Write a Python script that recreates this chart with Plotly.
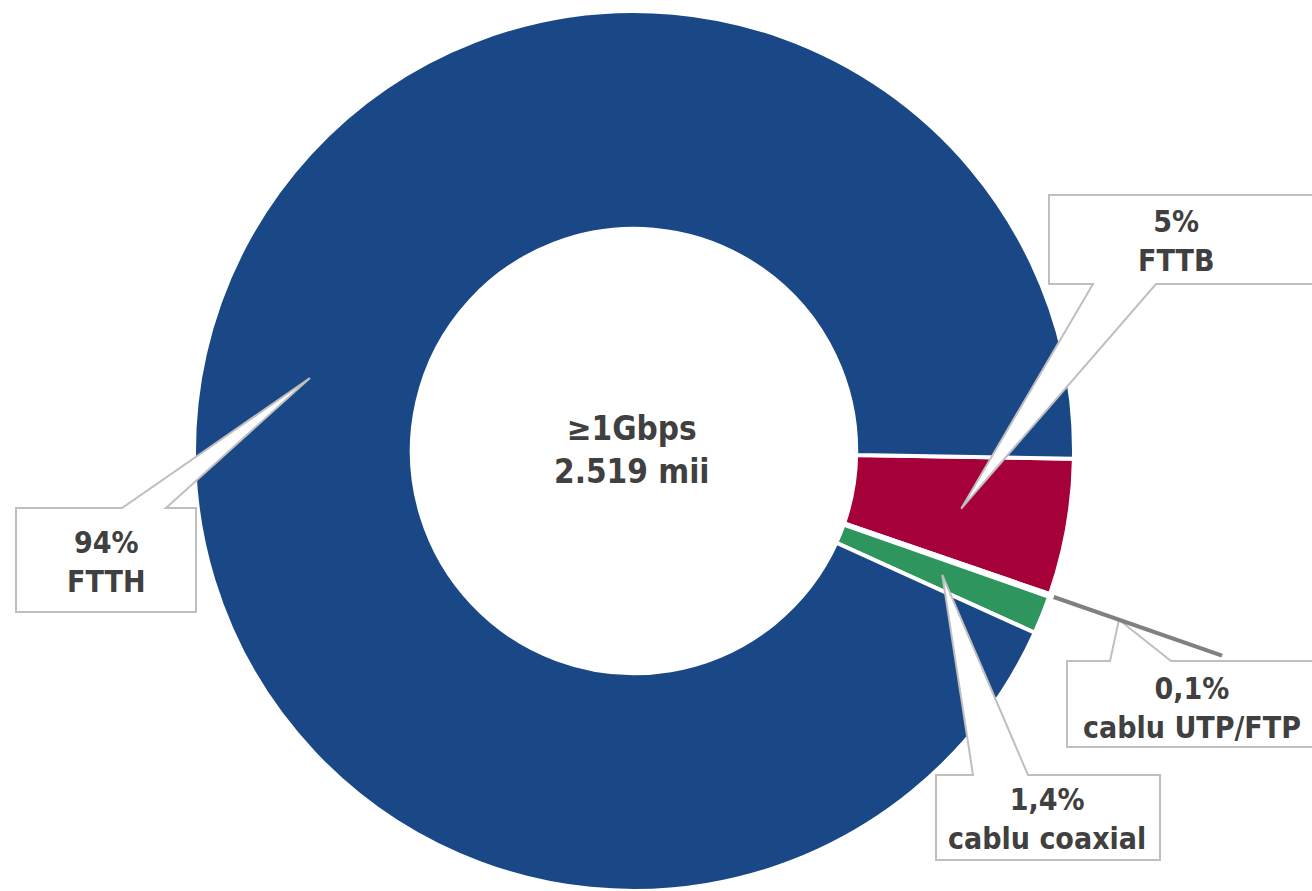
import math
import plotly.graph_objects as go

# ---- data ----
labels = ["FTTB", "cablu UTP/FTP", "cablu coaxial", "FTTH"]
values = [5.0, 0.1, 1.4, 93.5]
pct_text = ["5%", "0,1%", "1,4%", "94%"]
colors = ["#A6003B", "#808080", "#2F955F", "#1A4886"]
center_lines = ["≥1Gbps", "2.519 mii"]

# ---- layout constants (pixels) ----
W, H = 1312, 891
CX, CY, R = 634, 451, 440
HOLE = 0.505
ROT = 91
FONT = "DejaVu Sans Condensed, DejaVu Sans, sans-serif"
TXT = "#404040"
EDGE = "#BFBFBF"


def to_paper(x, y):
    return x / W, 1 - y / H


fig = go.Figure(
    go.Pie(
        labels=labels,
        values=values,
        hole=HOLE,
        sort=False,
        direction="clockwise",
        rotation=ROT,
        marker=dict(colors=colors, line=dict(color="white", width=4)),
        textinfo="none",
        hoverinfo="label+percent",
        showlegend=False,
        domain=dict(x=[(CX - R) / W, (CX + R) / W], y=[(H - CY - R) / H, (H - CY + R) / H]),
    )
)

# slice mid-angles (clockwise from 12 o'clock), from the data
total = sum(values)
mids = {}
a = ROT
for lab, v in zip(labels, values):
    span = v / total * 360
    mids[lab] = a + span / 2
    a += span


def polar(theta, rf):
    t = math.radians(theta)
    return CX + rf * R * math.sin(t), CY - rf * R * math.cos(t)


callouts = {
    "FTTB": dict(box=(1049, 195, 1330, 284), side="bottom", base=(1093, 1156), rf=0.755, text=(1176, 241)),
    "FTTH": dict(box=(16, 508, 196, 612), side="top", base=(122, 166), rf=0.755, text=(106, 562)),
    "cablu coaxial": dict(box=(936, 775, 1160, 860), side="top", base=(973, 1028), rf=0.755, text=(1047, 819)),
    "cablu UTP/FTP": dict(box=(1067, 661, 1330, 747), side="top", base=(1110, 1171), rf=1.167, text=(1192, 708)),
}

shapes = []
annotations = []
for lab, pct in zip(labels, pct_text):
    c = callouts[lab]
    x0, y0, x1, y1 = c["box"]
    b0, b1 = c["base"]
    tip = polar(mids[lab], c["rf"])
    if c["side"] == "top":
        pts = [(x0, y0), (b0, y0), tip, (b1, y0), (x1, y0), (x1, y1), (x0, y1)]
    else:
        pts = [(x0, y0), (x1, y0), (x1, y1), (b1, y1), tip, (b0, y1), (x0, y1)]
    pp = [to_paper(*p) for p in pts]
    path = "M " + " L ".join(f"{px:.5f},{py:.5f}" for px, py in pp) + " Z"
    shapes.append(dict(type="path", xref="paper", yref="paper", path=path,
                       fillcolor="white", line=dict(color=EDGE, width=2), layer="above"))
    tx, ty = to_paper(*c["text"])
    annotations.append(dict(x=tx, y=ty, xref="paper", yref="paper", text=f"{pct}<br>{lab}",
                            showarrow=False, xanchor="center", yanchor="middle",
                            font=dict(family=FONT, size=30, color=TXT, weight="bold")))

# leader line for the tiny UTP/FTP slice
lx0, ly0 = to_paper(*polar(mids["cablu UTP/FTP"], 1.01))
lx1, ly1 = to_paper(*polar(mids["cablu UTP/FTP"], 1.415))
shapes.append(dict(type="line", xref="paper", yref="paper", x0=lx0, y0=ly0, x1=lx1, y1=ly1,
                   line=dict(color="#808080", width=4), layer="above"))

cx_p, cy_p = to_paper(632, 450)
annotations.append(dict(x=cx_p, y=cy_p, xref="paper", yref="paper", text="<br>".join(center_lines),
                        showarrow=False, xanchor="center", yanchor="middle",
                        font=dict(family=FONT, size=33, color=TXT, weight="bold")))

fig.update_layout(
    width=W, height=H, autosize=False,
    margin=dict(l=0, r=0, t=0, b=0),
    paper_bgcolor="white", plot_bgcolor="white",
    shapes=shapes, annotations=annotations,
)

fig.write_html("out.html", config={"displayModeBar": False},
               post_script="document.body.style.margin='0';")
